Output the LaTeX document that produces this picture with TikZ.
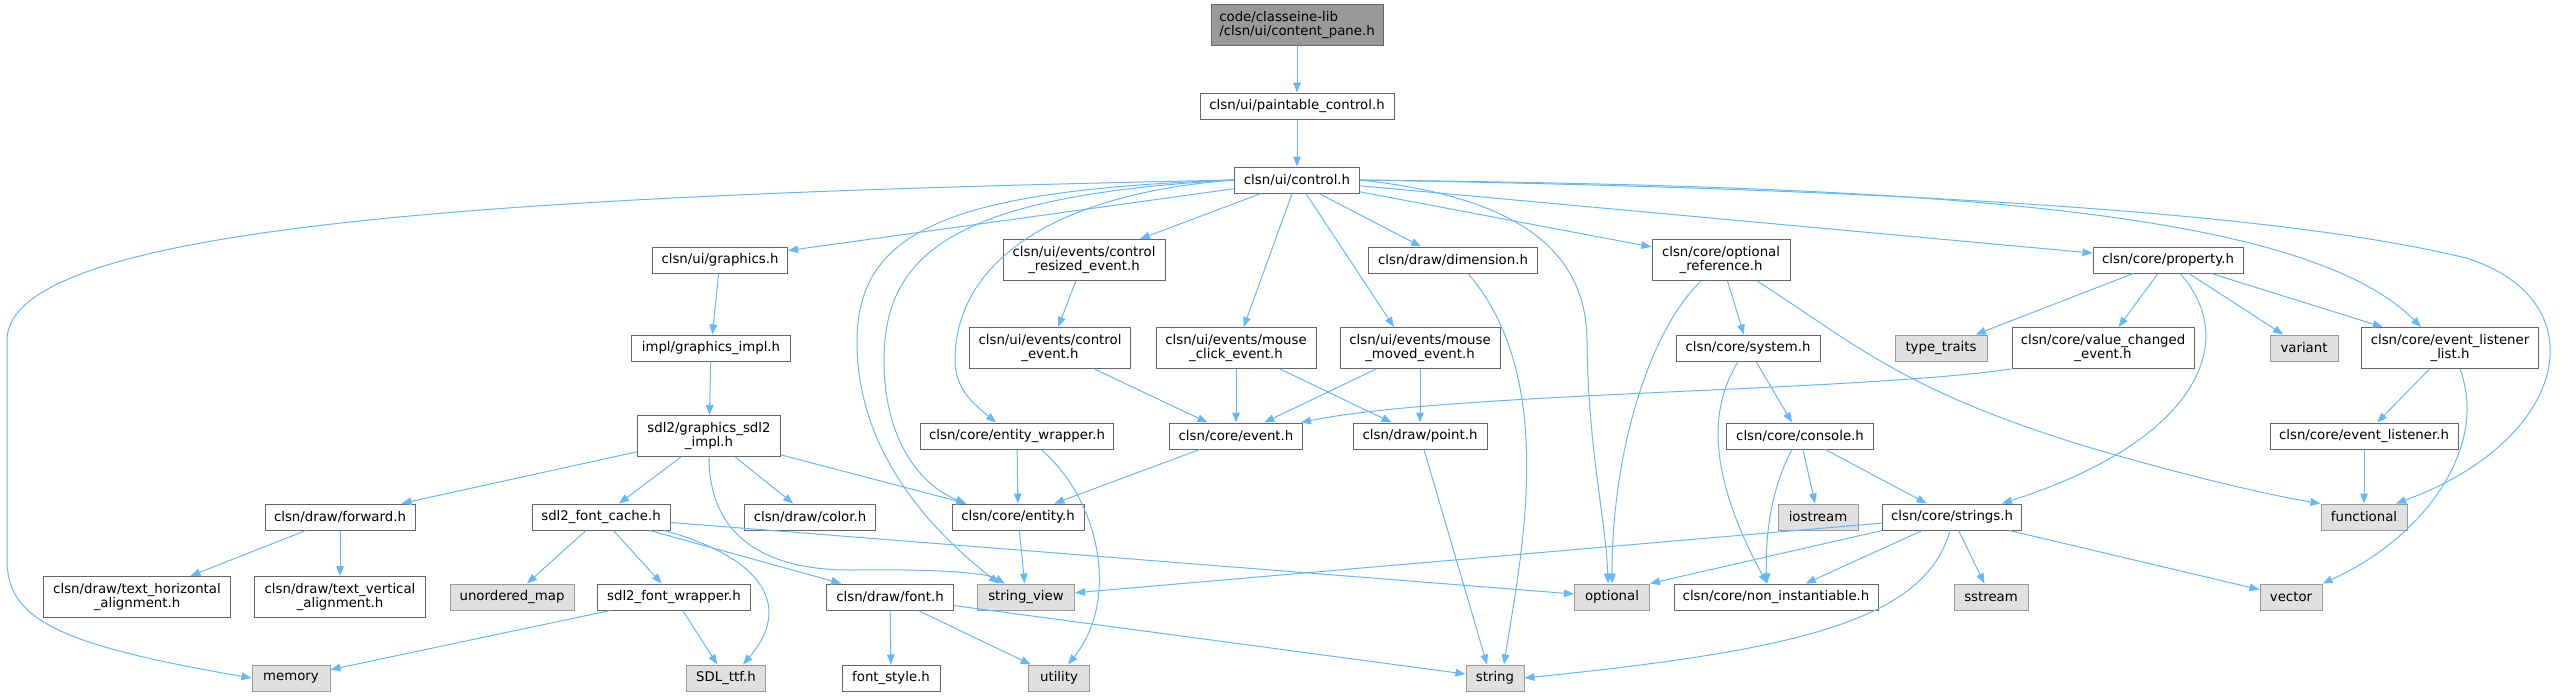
\documentclass[tikz,border=0pt]{standalone}
\usepackage{fontspec}
\setmainfont{DejaVu Sans}
\usepackage{tikz}
\usetikzlibrary{arrows.meta}
\definecolor{edgeblue}{HTML}{63B8FF}
\definecolor{boxgrey}{HTML}{666666}
\definecolor{extgrey}{HTML}{999999}
\definecolor{extfill}{HTML}{E0E0E0}
\definecolor{maingrey}{HTML}{999999}

\begin{document}
\begin{tikzpicture}[
  x=0.5pt, y=-0.5pt,
  font=\fontsize{6.65}{7.2}\selectfont, >={Triangle[length=5pt,width=3.8pt]},
  hdr/.style={draw=boxgrey, fill=white, align=center, inner sep=1pt, minimum height=13pt, line width=0.5pt},
  ext/.style={hdr, draw=extgrey, fill=extfill},
  mainhdr/.style={hdr, fill=maingrey, align=left},
  two/.style={minimum height=20.5pt},
  dep/.style={->, line width=0.5pt, draw=edgeblue},
]
\useasboundingbox (0,0) rectangle (2570,696);
\node[mainhdr, two, minimum width=86pt] (pane) at (1297,25) {code/classeine-lib\\/clsn/ui/content\_pane.h};
\node[hdr, minimum width=97pt] (paint) at (1297,106) {clsn/ui/paintable\_control.h};
\node[hdr, minimum width=62.5pt] (control) at (1297,180) {clsn/ui/control.h};
\node[hdr, minimum width=67.5pt] (graphics) at (720,260) {clsn/ui/graphics.h};
\node[hdr, two, minimum width=81pt] (resized) at (1084,260) {clsn/ui/events/control\\\_resized\_event.h};
\node[hdr, minimum width=84.5pt] (dimension) at (1453,260) {clsn/draw/dimension.h};
\node[hdr, two, minimum width=69pt] (optref) at (1721,260) {clsn/core/optional\\\_reference.h};
\node[hdr, minimum width=75pt] (property) at (2168,260) {clsn/core/property.h};
\node[hdr, minimum width=79.5pt] (gimpl) at (711,348) {impl/graphics\_impl.h};
\node[hdr, two, minimum width=80.5pt] (ctrlevent) at (1050,348) {clsn/ui/events/control\\\_event.h};
\node[hdr, two, minimum width=80pt] (click) at (1236,348) {clsn/ui/events/mouse\\\_click\_event.h};
\node[hdr, two, minimum width=80pt] (moved) at (1420,348) {clsn/ui/events/mouse\\\_moved\_event.h};
\node[hdr, minimum width=72pt] (system) at (1748,348) {clsn/core/system.h};
\node[ext, minimum width=46pt] (typetraits) at (1941,348) {type\_traits};
\node[hdr, two, minimum width=91pt] (valchanged) at (2103,348) {clsn/core/value\_changed\\\_event.h};
\node[ext, minimum width=34pt] (variant) at (2304,348) {variant};
\node[hdr, two, minimum width=88.5pt] (evlist) at (2450,348) {clsn/core/event\_listener\\\_list.h};
\node[hdr, two, minimum width=71.5pt] (sdlimpl) at (709,436) {sdl2/graphics\_sdl2\\\_impl.h};
\node[hdr, minimum width=96.5pt] (wrapper) at (1017,436) {clsn/core/entity\_wrapper.h};
\node[hdr, minimum width=66.5pt] (event) at (1236,436) {clsn/core/event.h};
\node[hdr, minimum width=67pt] (point) at (1420,436) {clsn/draw/point.h};
\node[hdr, minimum width=73.5pt] (console) at (1800,436) {clsn/core/console.h};
\node[hdr, minimum width=94pt] (listener) at (2364,436) {clsn/core/event\_listener.h};
\node[hdr, minimum width=75pt] (forward) at (340,517) {clsn/draw/forward.h};
\node[hdr, minimum width=69pt] (fontcache) at (601,517) {sdl2\_font\_cache.h};
\node[hdr, minimum width=65.5pt] (color) at (810,517) {clsn/draw/color.h};
\node[hdr, minimum width=66pt] (entity) at (1018,517) {clsn/core/entity.h};
\node[ext, minimum width=40pt] (iostream) at (1818,517) {iostream};
\node[hdr, minimum width=69.5pt] (strings) at (1952,517) {clsn/core/strings.h};
\node[ext, minimum width=43pt] (functional) at (2364,517) {functional};
\node[hdr, two, minimum width=93.5pt] (horiz) at (137,597) {clsn/draw/text\_horizontal\\\_alignment.h};
\node[hdr, two, minimum width=85.5pt] (vert) at (340,597) {clsn/draw/text\_vertical\\\_alignment.h};
\node[ext, minimum width=62pt] (umap) at (512,597) {unordered\_map};
\node[hdr, minimum width=76.5pt] (fontwrap) at (674,597) {sdl2\_font\_wrapper.h};
\node[hdr, minimum width=63.5pt] (font) at (890,597) {clsn/draw/font.h};
\node[ext, minimum width=48.5pt] (sview) at (1026,597) {string\_view};
\node[ext, minimum width=37.5pt] (optional) at (1612,597) {optional};
\node[hdr, minimum width=102pt] (noninst) at (1776,597) {clsn/core/non\_instantiable.h};
\node[ext, minimum width=37pt] (sstream) at (1991,597) {sstream};
\node[ext, minimum width=31pt] (vector) at (2291,597) {vector};
\node[ext, minimum width=39pt] (memory) at (291,678) {memory};
\node[ext, minimum width=39.5pt] (sdlttf) at (726,678) {SDL\_ttf.h};
\node[hdr, minimum width=49pt] (fontstyle) at (891,678) {font\_style.h};
\node[ext, minimum width=30.5pt] (utility) at (1059,678) {utility};
\node[ext, minimum width=29pt] (string) at (1495,678) {string};
\draw[dep] (pane) -- (paint);
\draw[dep] (paint) -- (control);
\draw[dep] (control.west) .. controls (500,195) and (8,225) .. (7,340) -- (7,560) .. controls (7,620) and (60,645) .. (memory.west);
\draw[dep] (control) -- (graphics);
\draw[dep] (control.west) .. controls (950,190) and (858,230) .. (857,340) .. controls (856,450) and (930,530) .. ([xshift=-13.5pt]sview.north);
\draw[dep] (control.west) .. controls (1040,195) and (955,270) .. (955,360) .. controls (955,390) and (975,405) .. ([xshift=-10.5pt]wrapper.north);
\draw[dep] (control.west) .. controls (960,195) and (884,250) .. (884,360) .. controls (884,440) and (920,485) .. ([xshift=-26pt]entity.north);
\draw[dep] (control) -- (resized);
\draw[dep] (control) -- (click);
\draw[dep] (control) -- ([xshift=-13pt]moved.north);
\draw[dep] ([xshift=11pt]control.south) -- ([xshift=-16pt]dimension.north);
\draw[dep] (control.east) .. controls (1500,195) and (1586,240) .. (1587,340) .. controls (1588,450) and (1606,520) .. ([xshift=-2pt]optional.north);
\draw[dep] (control) -- (optref);
\draw[dep] (control) -- (property);
\draw[dep] (control.east) .. controls (1900,186) and (2300,205) .. ([xshift=-14.5pt]evlist.north);
\draw[dep] (control.east) .. controls (2100,192) and (2350,230) .. (2466,258) .. controls (2600,300) and (2570,440) .. ([xshift=16pt]functional.north);
\draw[dep] (graphics) -- (gimpl);
\draw[dep] (gimpl) -- (sdlimpl);
\draw[dep] (sdlimpl) -- (forward);
\draw[dep] (sdlimpl) -- (fontcache);
\draw[dep] (sdlimpl) -- (color);
\draw[dep] (sdlimpl) -- (entity);
\draw[dep] (sdlimpl.south) .. controls (709,540) and (770,570) .. (850,570) .. controls (930,569) and (985,572) .. ([xshift=-10.5pt]sview.north);
\draw[dep] (forward) -- (horiz);
\draw[dep] (forward) -- (vert);
\draw[dep] (fontcache) -- (umap);
\draw[dep] (fontcache) -- (fontwrap);
\draw[dep] ([xshift=-3pt]fontcache.south east) .. controls (770,560) and (790,610) .. ([xshift=8.5pt]sdlttf.north);
\draw[dep] (fontcache) -- (font);
\draw[dep] (fontcache) -- (optional);
\draw[dep] (fontwrap) -- (memory);
\draw[dep] (fontwrap) -- (sdlttf);
\draw[dep] (font) -- (fontstyle);
\draw[dep] (font) -- (utility);
\draw[dep] (font) -- (string);
\draw[dep] (resized) -- (ctrlevent);
\draw[dep] (ctrlevent) -- (event);
\draw[dep] (click) -- (event);
\draw[dep] (click) -- (point);
\draw[dep] (moved) -- (event);
\draw[dep] (moved) -- (point);
\draw[dep] (valchanged.south west) .. controls (1850,392) and (1450,392) .. ([xshift=-1pt]event.north east);
\draw[dep] (event) -- (entity);
\draw[dep] (wrapper) -- (entity);
\draw[dep] ([xshift=12pt]wrapper.south) .. controls (1100,500) and (1120,600) .. ([xshift=4.5pt]utility.north);
\draw[dep] (entity) -- (sview);
\draw[dep] ([xshift=7.5pt]dimension.south) .. controls (1560,380) and (1520,560) .. ([xshift=4.5pt]string.north);
\draw[dep] (point) -- ([xshift=-4pt]string.north);
\draw[dep] (optref) -- (system);
\draw[dep] ([xshift=-10pt]optref.south) .. controls (1650,330) and (1612,450) .. (optional.north);
\draw[dep] ([xshift=18pt]optref.south) .. controls (1850,340) and (1900,390) .. (2088,447) .. controls (2200,480) and (2280,497) .. (functional.north west);
\draw[dep] (system) -- (console);
\draw[dep] ([xshift=-5pt]system.south) .. controls (1715,400) and (1700,460) .. ([xshift=-4.5pt]noninst.north);
\draw[dep] ([xshift=-4pt]console.south) .. controls (1770,490) and (1765,540) .. ([xshift=-4.5pt]noninst.north);
\draw[dep] (console) -- (iostream);
\draw[dep] (console) -- (strings);
\draw[dep] (strings) -- (sview);
\draw[dep] (strings.south west) -- (optional.north east);
\draw[dep] (strings) -- (noninst);
\draw[dep] ([xshift=-1pt]strings.south) .. controls (1925,620) and (1800,650) .. (string.east);
\draw[dep] (strings) -- (sstream);
\draw[dep] (strings) -- (vector);
\draw[dep] (property) -- (typetraits);
\draw[dep] (property) -- (valchanged);
\draw[dep] ([xshift=6pt]property.south) .. controls (2240,340) and (2200,440) .. ([xshift=25pt]strings.north);
\draw[dep] (property) -- (variant);
\draw[dep] (property) -- (evlist);
\draw[dep] (evlist) -- (listener);
\draw[dep] ([xshift=5pt]evlist.south) .. controls (2490,450) and (2420,540) .. (vector.north east);
\draw[dep] (listener) -- (functional);
\end{tikzpicture}
\end{document}
